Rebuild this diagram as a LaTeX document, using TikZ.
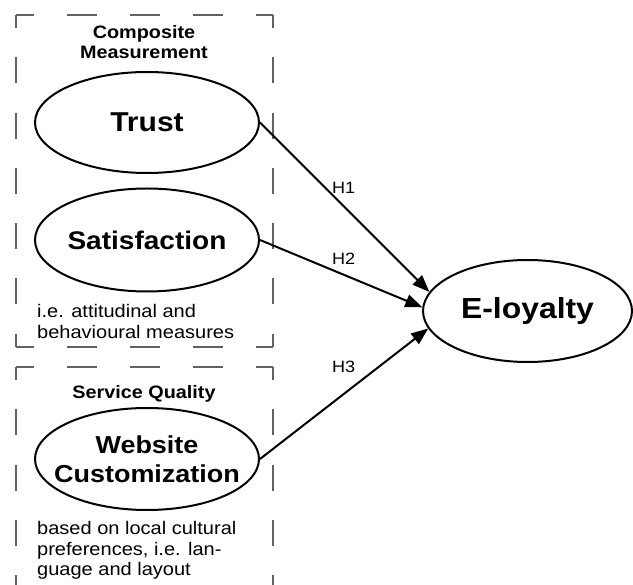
\documentclass[tikz,border=0pt]{standalone}
\usepackage{fontspec}
\setmainfont{Liberation Sans}[FakeStretch=1.1]
\usetikzlibrary{shapes.geometric, arrows.meta}
\definecolor{boxgrey}{rgb}{0.38, 0.38, 0.38}

\begin{document}
\begin{tikzpicture}[x=1pt, y=-1pt,
        construct/.style={draw, ellipse, line width=2pt, inner sep=0pt},
        bigtext/.style={font=\bfseries\fontsize{#1}{29}\selectfont, align=center},
        head/.style={font=\bfseries\fontsize{18}{20}\selectfont, align=center, inner sep=0pt},
        note/.style={font=\fontsize{18.2}{20.5}\selectfont, align=left, inner sep=0pt},
        hyp/.style={font=\fontsize{16.4}{18}\selectfont, inner sep=0pt},
        boxline/.style={draw=boxgrey, line width=1.6pt},
        hside/.style={boxline, dash pattern=on 30pt off 33pt, dash phase=12.5pt},
        vside/.style={boxline, dash pattern=on 26pt off 29.3pt, dash phase=13pt},
        path/.style={line width=2pt, -{Triangle[length=17pt, width=13pt]}}]
        \useasboundingbox (0,0) rectangle (633,585);

        \draw [hside] (16,15) -- (273,15);
        \draw [hside] (16,347) -- (273,347);
        \draw [vside] (16,15) -- (16,347);
        \draw [vside] (273,15) -- (273,347);

        \draw [hside] (16,367) -- (273,367);
        \draw [vside] (16,367) -- (16,600);
        \draw [vside] (273,367) -- (273,600);

        \node [head, anchor=north] (comp) at (144,25) {Composite\\Measurement};
        \node [head, anchor=north] (serv) at (144,385) {Service Quality};
        \node [note, anchor=north west] (attit) at (37,304.5) {i.e. attitudinal and\\behavioural measures};
        \node [note, anchor=north west] (local) at (37,521.5) {based on local cultural\\preferences, i.e. lan-\\guage and layout};

        \node [construct, minimum width=224pt, minimum height=101pt, label={[bigtext=27.3]center:Trust}] (trust) at (147,122.5) {};
        \node [construct, minimum width=224pt, minimum height=103pt, label={[bigtext=25.5]center:Satisfaction}] (satis) at (147,240) {};
        \node [construct, minimum width=224pt, minimum height=102pt, label={[bigtext=24.5]center:{Website\\Customization}}] (webcust) at (147,459) {};
        \node [construct, minimum width=209pt, minimum height=102pt, label={[bigtext=29]center:E-loyalty}] (eloyal) at (527.5,311) {};

        \draw [path] (trust.east) -- (eloyal.169);
        \draw [path] (satis.east) -- (eloyal.178);
        \draw [path] (webcust.east) -- (eloyal.190);

        \node [hyp, anchor=base west] (h1) at (332,194) {H1};
        \node [hyp, anchor=base west] (h2) at (332,265) {H2};
        \node [hyp, anchor=base west] (h3) at (332,373) {H3};
    \end{tikzpicture}
\end{document}
